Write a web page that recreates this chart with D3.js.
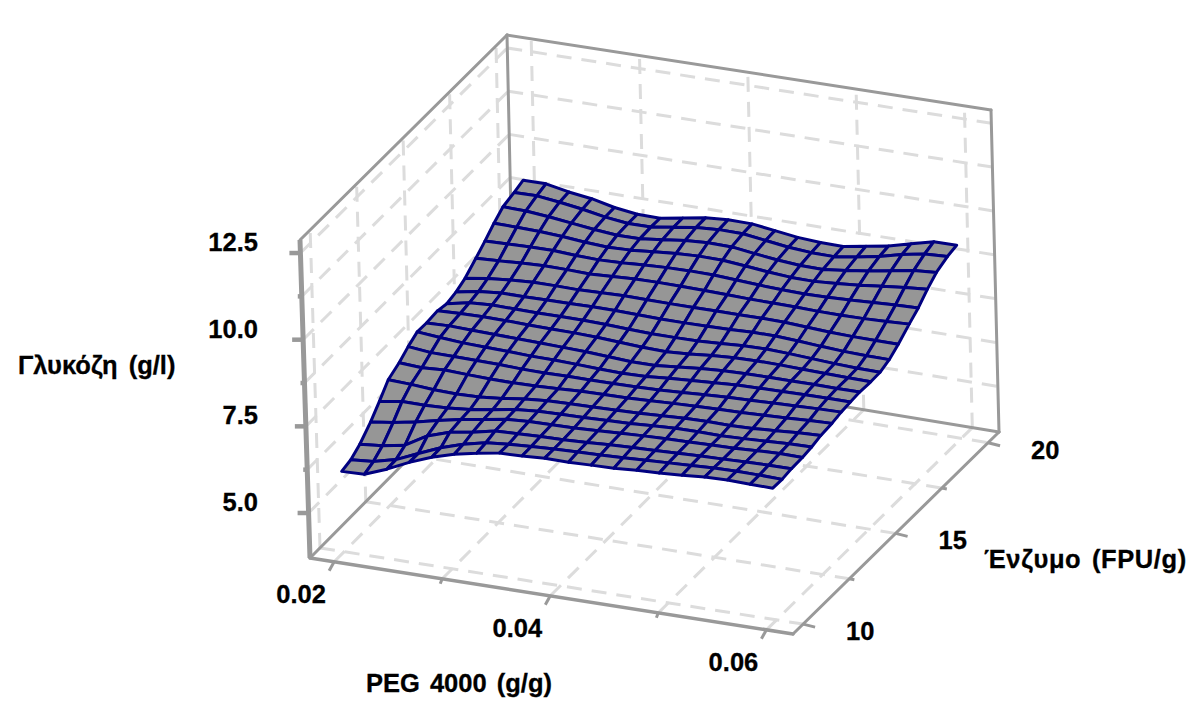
<!DOCTYPE html>
<html>
<head>
<meta charset="utf-8">
<script src="https://cdn.jsdelivr.net/npm/d3@7"></script>
<style>
  html, body { margin: 0; padding: 0; background: #fff; }
  text { font-family: "Liberation Sans", Arial, sans-serif; font-weight: bold; font-size: 25.5px; fill: #000; stroke: #000; stroke-width: 0.3px; }
</style>
</head>
<body>
<script>
'use-strict';

// chart size
let width = 1196,
  height = 718;

// tick labels
let pegTicks = [0.02, 0.03, 0.04, 0.05, 0.06];
let pegLabels = ["0.02", "", "0.04", "", "0.06"];
let enzymeTicks = [10, 12.5, 15, 17.5, 20];
let enzymeLabels = ["10", "", "15", "", "20"];
let glucoseTicks = [5, 6.25, 7.5, 8.75, 10, 11.25, 12.5];
let glucoseLabels = ["5.0", "", "7.5", "", "10.0", "", "12.5"];

// surface grid
let pegValues = [0.0200, 0.0221, 0.0242, 0.0263, 0.0284, 0.0305, 0.0326, 0.0347, 0.0368, 0.0389,
  0.0411, 0.0432, 0.0453, 0.0474, 0.0495, 0.0516, 0.0537, 0.0558, 0.0579, 0.0600];
let enzymeValues = [10, 10.5, 11, 11.6, 12.1, 12.6, 13.2, 13.7, 14.2, 14.7,
  15.3, 15.8, 16.3, 16.8, 17.4, 17.9, 18.4, 18.9, 19.5, 20];

// glucose, one row per enzyme value (front row first), one column per peg value
let glucose = [
  [6.02, 6.04, 6.29, 6.59, 6.84, 7.03, 7.16, 7.27, 7.29, 7.33, 7.32, 7.34, 7.35, 7.40, 7.42, 7.46, 7.51, 7.53, 7.51, 7.50],
  [6.09, 6.14, 6.30, 6.58, 6.85, 7.05, 7.20, 7.26, 7.30, 7.33, 7.35, 7.37, 7.39, 7.42, 7.45, 7.48, 7.51, 7.52, 7.51, 7.49],
  [6.27, 6.33, 6.45, 6.82, 7.03, 7.13, 7.27, 7.30, 7.32, 7.33, 7.36, 7.40, 7.42, 7.44, 7.46, 7.49, 7.50, 7.52, 7.53, 7.53],
  [6.59, 6.68, 6.80, 6.95, 7.08, 7.18, 7.29, 7.33, 7.34, 7.35, 7.38, 7.41, 7.44, 7.46, 7.47, 7.49, 7.50, 7.53, 7.55, 7.54],
  [6.92, 7.02, 7.02, 7.04, 7.10, 7.20, 7.31, 7.36, 7.38, 7.39, 7.41, 7.43, 7.47, 7.50, 7.50, 7.49, 7.51, 7.54, 7.57, 7.58],
  [7.28, 7.25, 7.20, 7.18, 7.20, 7.26, 7.35, 7.40, 7.42, 7.43, 7.44, 7.46, 7.49, 7.52, 7.53, 7.52, 7.54, 7.58, 7.62, 7.65],
  [7.45, 7.41, 7.45, 7.42, 7.40, 7.39, 7.40, 7.43, 7.46, 7.47, 7.48, 7.50, 7.53, 7.55, 7.57, 7.58, 7.60, 7.63, 7.66, 7.68],
  [7.65, 7.58, 7.57, 7.56, 7.55, 7.52, 7.51, 7.52, 7.52, 7.52, 7.53, 7.55, 7.58, 7.62, 7.65, 7.67, 7.69, 7.71, 7.73, 7.74],
  [7.81, 7.75, 7.70, 7.68, 7.66, 7.63, 7.62, 7.60, 7.57, 7.55, 7.57, 7.62, 7.66, 7.70, 7.74, 7.75, 7.76, 7.77, 7.77, 7.77],
  [7.80, 7.82, 7.80, 7.78, 7.76, 7.74, 7.72, 7.70, 7.66, 7.62, 7.62, 7.68, 7.74, 7.78, 7.80, 7.80, 7.80, 7.80, 7.79, 7.79],
  [7.83, 7.86, 7.87, 7.86, 7.84, 7.83, 7.82, 7.80, 7.76, 7.72, 7.70, 7.74, 7.80, 7.84, 7.85, 7.84, 7.82, 7.80, 7.78, 7.77],
  [7.77, 7.90, 7.94, 7.93, 7.92, 7.92, 7.92, 7.90, 7.87, 7.84, 7.84, 7.85, 7.88, 7.92, 7.93, 7.90, 7.86, 7.82, 7.79, 7.78],
  [7.84, 7.96, 8.02, 8.02, 8.03, 8.03, 8.04, 8.04, 8.02, 8.00, 8.00, 8.01, 8.02, 8.04, 8.04, 8.00, 7.95, 7.91, 7.89, 7.88],
  [7.97, 8.07, 8.13, 8.17, 8.17, 8.16, 8.18, 8.20, 8.19, 8.18, 8.18, 8.18, 8.18, 8.18, 8.17, 8.13, 8.09, 8.07, 8.06, 8.06],
  [8.23, 8.26, 8.30, 8.33, 8.32, 8.30, 8.33, 8.36, 8.37, 8.36, 8.35, 8.33, 8.31, 8.30, 8.29, 8.27, 8.26, 8.27, 8.29, 8.32],
  [8.46, 8.48, 8.50, 8.50, 8.46, 8.44, 8.46, 8.50, 8.53, 8.54, 8.53, 8.49, 8.45, 8.42, 8.40, 8.41, 8.44, 8.47, 8.50, 8.52],
  [8.71, 8.70, 8.68, 8.64, 8.58, 8.54, 8.56, 8.62, 8.67, 8.70, 8.69, 8.63, 8.56, 8.51, 8.50, 8.54, 8.60, 8.67, 8.74, 8.79],
  [8.92, 8.90, 8.84, 8.76, 8.68, 8.62, 8.62, 8.70, 8.78, 8.82, 8.81, 8.72, 8.64, 8.59, 8.58, 8.65, 8.74, 8.85, 8.96, 9.01],
  [9.01, 9.02, 8.94, 8.84, 8.72, 8.64, 8.64, 8.74, 8.84, 8.88, 8.87, 8.78, 8.69, 8.64, 8.63, 8.72, 8.84, 9.00, 9.12, 9.15],
  [9.10, 9.10, 8.97, 8.88, 8.73, 8.64, 8.63, 8.74, 8.85, 8.90, 8.89, 8.80, 8.71, 8.67, 8.66, 8.77, 8.88, 9.05, 9.21, 9.21]
];

// scales from data values to box fractions
let xScale = d3.scaleLinear().domain([0.02, 0.06]).range([0.05, 0.945]);
let yScale = d3.scaleLinear().domain([10, 20]).range([0.049, 0.947]);
let zScale = d3.scaleLinear().domain([5, 12.5]).range([0.1415, 0.959]);

// screen position of the box corners: bottom then top, [x fraction][y fraction]
let xPos = [[[310, 300], [514, 507]], [[793, 784], [999, 991]]];
let yPos = [[[558, 240], [352, 35]], [[634, 316], [432, 110]]];

window.onload = function () {
  let svg = d3.select("body")
    .append("svg")
    .attr("width", width)
    .attr("height", height);

  drawGrid(svg);
  drawBox(svg);
  drawSurface(svg);
  drawAxes(svg);
  drawTitles(svg);
}

// projects box fractions to the screen
function project(fx, fy, fz) {
  let mix = c => {
    let c0 = c[0][0][0] * (1 - fz) + c[0][0][1] * fz,
      c1 = c[0][1][0] * (1 - fz) + c[0][1][1] * fz,
      c2 = c[1][0][0] * (1 - fz) + c[1][0][1] * fz,
      c3 = c[1][1][0] * (1 - fz) + c[1][1][1] * fz;
    return (c0 * (1 - fy) + c1 * fy) * (1 - fx) + (c2 * (1 - fy) + c3 * fy) * fx;
  };
  return [mix(xPos), mix(yPos)];
}

// draws a straight line between two box points
function segment(g, a, b) {
  let p = project(a[0], a[1], a[2]),
    q = project(b[0], b[1], b[2]);
  return g.append("line")
    .attr("x1", p[0]).attr("y1", p[1])
    .attr("x2", q[0]).attr("y2", q[1]);
}

// dashed grid on the left wall, the back wall and the floor
function drawGrid(svg) {
  let g = svg.append("g")
    .attr("stroke", "#dcdcdc")
    .attr("stroke-width", 3)
    .attr("stroke-dasharray", "15 10")
    .attr("fill", "none");

  pegTicks.forEach(d => {
    segment(g, [xScale(d), 0, 0], [xScale(d), 1, 0]);
    segment(g, [xScale(d), 1, 0], [xScale(d), 1, 1]);
  });
  enzymeTicks.forEach(d => {
    segment(g, [0, yScale(d), 0], [1, yScale(d), 0]);
    segment(g, [0, yScale(d), 0], [0, yScale(d), 1]);
  });
  glucoseTicks.forEach(d => {
    segment(g, [0, 0, zScale(d)], [0, 1, zScale(d)]);
    segment(g, [0, 1, zScale(d)], [1, 1, zScale(d)]);
  });
}

// outline of the box
function drawBox(svg) {
  let g = svg.append("g")
    .attr("stroke", "#999")
    .attr("stroke-width", 3)
    .attr("stroke-linecap", "round");

  segment(g, [0, 0, 0], [1, 0, 0]).attr("stroke-width", 3.5);
  segment(g, [1, 0, 0], [1, 1, 0]);
  segment(g, [0, 0, 0], [0, 1, 0]);
  segment(g, [0, 1, 0], [1, 1, 0]);
  segment(g, [0, 1, 0], [0, 1, 1]);
  segment(g, [1, 1, 0], [1, 1, 1]);
  segment(g, [0, 0, 1], [0, 1, 1]);
  segment(g, [0, 1, 1], [1, 1, 1]);
}

// the fitted surface, far cells first
function drawSurface(svg) {
  let cells = [];
  for (let j = enzymeValues.length - 2; j >= 0; j--) {
    for (let i = 0; i < pegValues.length - 1; i++) {
      cells.push([[i, j], [i + 1, j], [i + 1, j + 1], [i, j + 1]]);
    }
  }
  let line = d3.line()
    .x(d => d[0])
    .y(d => d[1]);
  let node = d => project(xScale(pegValues[d[0]]), yScale(enzymeValues[d[1]]), zScale(glucose[d[1]][d[0]]));

  svg.append("g")
    .selectAll("path")
    .data(cells)
    .join("path")
    .attr("d", d => line(d.map(node)) + "Z")
    .attr("fill", "#969696")
    .attr("stroke", "#000080")
    .attr("stroke-width", 3)
    .attr("stroke-linejoin", "round");
}

// thick axis, ticks and tick labels
function drawAxes(svg) {
  let g = svg.append("g").attr("stroke", "#999").attr("stroke-width", 3);

  segment(g, [0, 0, 0], [0, 0, 1]).attr("stroke-width", 5);

  glucoseTicks.forEach((d, i) => {
    let p = project(0, 0, zScale(d));
    g.append("line")
      .attr("x1", p[0]).attr("y1", p[1])
      .attr("x2", p[0] - (glucoseLabels[i] ? 11 : 4)).attr("y2", p[1])
      .attr("stroke-width", 4.5);
    svg.append("text")
      .attr("x", 258)
      .attr("y", p[1] - 2)
      .attr("text-anchor", "end")
      .text(glucoseLabels[i]);
  });

  pegTicks.forEach((d, i) => {
    let p = project(xScale(d), 0, 0);
    g.append("line")
      .attr("x1", p[0]).attr("y1", p[1])
      .attr("x2", p[0] - (pegLabels[i] ? 5 : 2)).attr("y2", p[1] + (pegLabels[i] ? 9 : 5));
    svg.append("text")
      .attr("x", p[0] - 33)
      .attr("y", p[1] + 41)
      .attr("text-anchor", "middle")
      .text(pegLabels[i]);
  });

  enzymeTicks.forEach((d, i) => {
    let p = project(1, yScale(d), 0);
    g.append("line")
      .attr("x1", p[0]).attr("y1", p[1])
      .attr("x2", p[0] + (enzymeLabels[i] ? 12 : 5)).attr("y2", p[1] + (enzymeLabels[i] ? 3 : 1));
    svg.append("text")
      .attr("x", p[0] + 43)
      .attr("y", p[1] + 16)
      .text(enzymeLabels[i]);
  });
}

// axis titles
function drawTitles(svg) {
  svg.append("text")
    .attr("x", 18).attr("y", 374)
    .attr("word-spacing", 4)
    .text("Γλυκόζη (g/l)");
  svg.append("text")
    .attr("x", 366).attr("y", 692)
    .attr("word-spacing", 3)
    .text("PEG 4000 (g/g)");
  svg.append("text")
    .attr("x", 984).attr("y", 568)
    .attr("word-spacing", 3)
    .attr("letter-spacing", 0.6)
    .text("Ένζυμο (FPU/g)");
}
</script>
</body>
</html>
